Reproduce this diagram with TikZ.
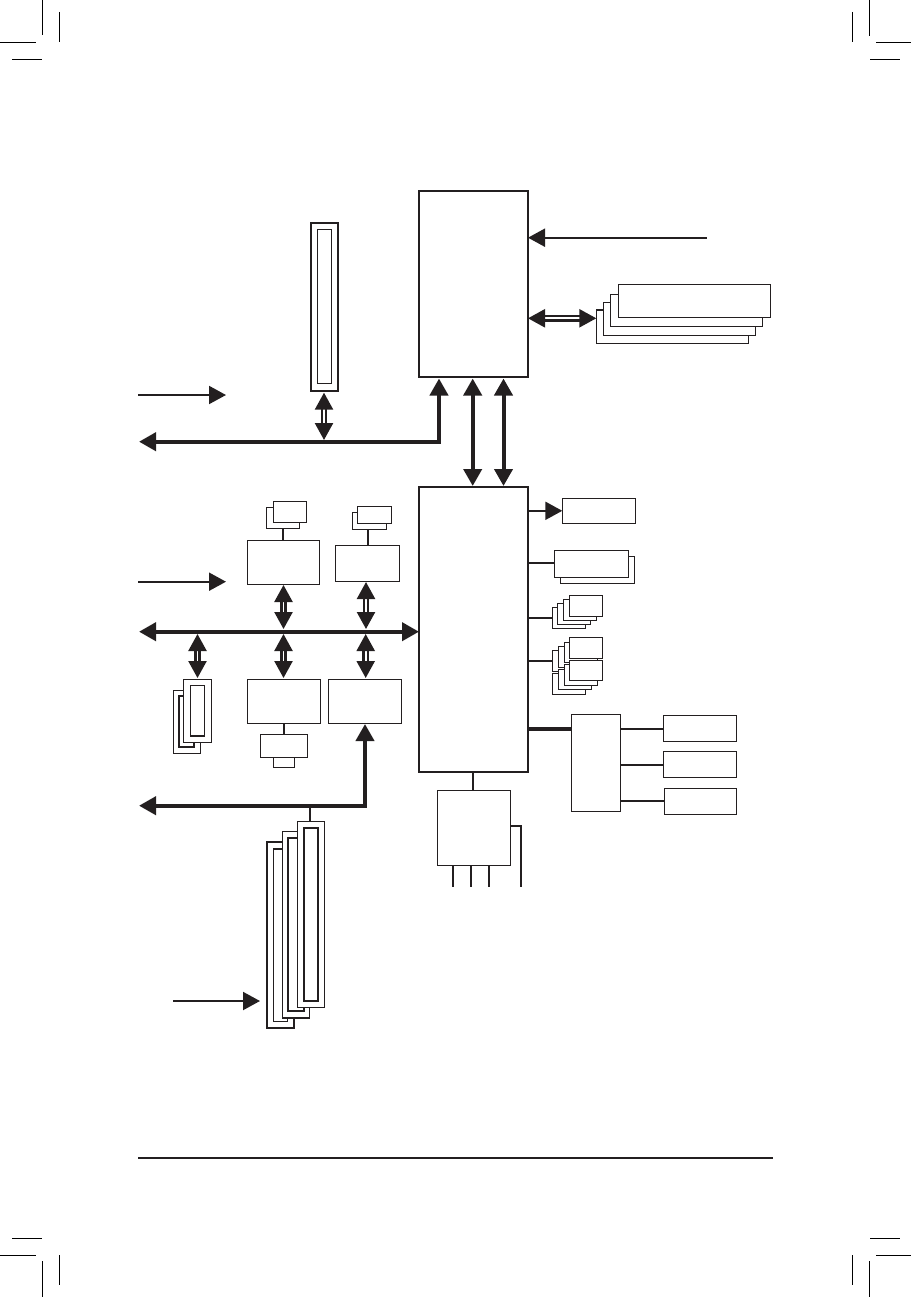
\documentclass[tikz,border=0pt]{standalone}
\usetikzlibrary{arrows.meta,calc}
\definecolor{ink}{HTML}{231F20}
\tikzset{
  boxst/.style={draw=ink,fill=white,line width=1.5pt,inner sep=0pt,outer sep=0pt},
  heavybox/.style={boxst,line width=2pt},
  slotbox/.style={boxst,line width=1.9pt},
  slotheavy/.style={boxst,line width=2.2pt},
  thin wire/.style={draw=ink,line width=2pt},
  mid wire/.style={draw=ink,line width=2.2pt},
  heavy wire/.style={draw=ink,line width=4pt},
  bigtip/.tip={Triangle[length=17pt,width=18pt,color=ink]},
  oneway/.style={draw=ink,line width=2pt,-bigtip},
  twoway/.style={draw=ink,line width=4pt,bigtip-bigtip,line join=miter},
  dbl/.style={draw=ink,line width=2.4pt,double=white,double distance=1.8pt,bigtip-bigtip},
  crop/.style={draw=black,line width=1pt}
}
\newcommand{\bx}[6][boxst]{%
  \pgfmathsetmacro{\bxw}{#5-#3}\pgfmathsetmacro{\bxh}{#6-#4}%
  \pgfmathsetmacro{\bxx}{(#5+#3)/2}\pgfmathsetmacro{\bxy}{(#6+#4)/2}%
  \node[#1,minimum width=\bxw pt,minimum height=\bxh pt] (#2) at (\bxx,\bxy) {};}
\begin{document}
\begin{tikzpicture}[x=1pt,y=-1pt]
\useasboundingbox (0,0) rectangle (913,1298);
% crop marks
\draw[crop] (42.5,0) -- (42.5,35.5);
\draw[crop] (59.5,12) -- (59.5,42);
\draw[crop] (0,42.5) -- (36,42.5);
\draw[crop] (12,59.5) -- (42,59.5);
\draw[crop] (869.5,0) -- (869.5,36);
\draw[crop] (852.5,12) -- (852.5,42);
\draw[crop] (876,42.5) -- (911,42.5);
\draw[crop] (870,59.5) -- (900,59.5);
\draw[crop] (42.5,1261) -- (42.5,1297);
\draw[crop] (59.5,1255) -- (59.5,1285);
\draw[crop] (0,1255.3) -- (36,1255.3);
\draw[crop] (12,1238.3) -- (42,1238.3);
\draw[crop] (869.5,1261) -- (869.5,1297);
\draw[crop] (852.5,1255) -- (852.5,1285);
\draw[crop] (876,1255.3) -- (911,1255.3);
\draw[crop] (870,1238.3) -- (900,1238.3);
% main chips
\bx[heavybox]{cpu}{419}{191}{528}{377}
\bx[heavybox]{pch}{419}{487}{528}{772}
% memory stack (top right)
\bx{ma}{596.3}{310}{748.7}{343.3}
\bx{mb}{603.3}{302.3}{755.7}{335.7}
\bx{mc}{610.3}{294.3}{762.7}{326.7}
\bx{md}{618.3}{284.3}{770.7}{317.3}
% x16 slot
\bx[heavybox]{slot}{310.7}{222.7}{338.3}{391.3}
\bx{sloti}{317.3}{229.3}{331.7}{383.7}
% left column upper chips
\bx{aback}{266.3}{507.3}{299.3}{528.3}
\bx{afront}{273.3}{501.3}{306.7}{522.7}
\bx{chipa}{247.3}{540.3}{319.7}{584.3}
\bx{bback}{352.3}{512.3}{386.7}{529.3}
\bx{bfront}{357.3}{506.3}{391.7}{523.5}
\bx{chipb}{335.3}{545.3}{399.3}{581.3}
% pci slots
\bx{pa}{173.3}{690.3}{200.7}{753.3}
\bx[slotbox]{pai}{179.3}{696}{194.3}{747.3}
\bx{pb}{183.7}{679.3}{211.7}{742.3}
\bx{pbi}{190.3}{685.3}{204.7}{736}
% lower chips
\bx{dback}{273.3}{750}{294.7}{767.3}
\bx{chipd}{260.3}{734.3}{307.7}{757.3}
\bx{chipc}{247.3}{679.3}{320.7}{723.3}
\bx{chipe}{328.3}{679.3}{401.7}{723.3}
% pcie x1 slots
\bx[slotbox]{xa}{266.7}{842.3}{294.3}{1028.3}
\bx{xai}{273.3}{849}{287.7}{1021.7}
\bx{xb}{282.3}{831.7}{309.7}{1018}
\bx[slotbox]{xbi}{288.3}{838.3}{303.7}{1011}
\bx{xc}{297.3}{821.7}{324.7}{1007.3}
\bx[slotheavy]{xci}{303.7}{827.7}{318.3}{1000.7}
% right column
\bx{ra}{562.3}{498.3}{635.7}{523.3}
\bx{rbb}{560.3}{556.3}{634.7}{583.3}
\bx{rb}{554.3}{550.3}{628.7}{577.3}
\bx{s1}{552.3}{607.3}{585.7}{628.3}
\bx{s2}{557.3}{603.3}{590.7}{624.3}
\bx{s3}{563.3}{599.3}{596.7}{620.3}
\bx{s4}{569.3}{595.3}{602.7}{616.3}
\bx{t1}{552.3}{650.3}{585.7}{671.3}
\bx{t2}{558.3}{646.3}{591.7}{667.3}
\bx{t3}{564.3}{642.3}{597.7}{662.7}
\bx{t4}{569.3}{637.3}{602.7}{658.3}
\bx{u1}{552.3}{673.3}{585.7}{694.3}
\bx{u2}{558.3}{669.3}{591.7}{689.3}
\bx{u3}{564.3}{664.3}{597.7}{685.3}
\bx{u4}{569.3}{660.3}{602.7}{680.3}
\bx{hub}{571.3}{714.3}{620.7}{811.7}
\bx{ha}{663.3}{715.3}{736.7}{741.3}
\bx{hb}{663.3}{751.3}{736.7}{777.3}
\bx{hc}{664.3}{788.3}{736.7}{814.3}
\bx{sio}{437.3}{790.3}{510.3}{865.3}
% free ends
\coordinate (inA) at (706.7,237.7);
\coordinate (inB) at (138,395);
\coordinate (inC) at (138,581.7);
\coordinate (inD) at (173,1001);
\coordinate (tipB) at (226,395);
\coordinate (tipC) at (226,581.7);
\coordinate (tipD) at (260,1001);
\coordinate (busTop) at (139,441.7);
\coordinate (busTopR) at (439,441.7);
\coordinate (busTopU) at (439,378.5);
\coordinate (busMidL) at (139,631.7);
\coordinate (busLow) at (139,805.7);
\coordinate (busLowR) at (365,805.7);
\coordinate (busLowU) at (365,724);
\coordinate (sl) at (324,440);
\coordinate (ja) at (283.5,629);
\coordinate (jb) at (366,629);
\coordinate (jp) at (197.5,634);
\coordinate (jc) at (283.5,634);
\coordinate (je) at (365.7,634);
\coordinate (xtop) at (310,805.7);
\coordinate (c1t) at (472.7,378.5);
\coordinate (c1b) at (472.7,486);
\coordinate (c2t) at (503.5,378.5);
\coordinate (c2b) at (503.5,486);
% connectors
\draw[oneway] (inA) -- (cpu.east |- inA);
\draw[dbl] (cpu.east |- md.south) ++(0,1) coordinate (cm) -- (ma.west |- cm);
\draw[oneway] (inB) -- (tipB);
\draw[oneway] (inC) -- (tipC);
\draw[oneway] (inD) -- (tipD);
\draw[twoway] (busTop) -- (busTopR) -- (busTopU);
\draw[dbl] (324,392.7) -- (sl);
\draw[twoway] (c1t) -- (c1b);
\draw[twoway] (c2t) -- (c2b);
\draw[twoway] (busMidL) -- (pch.west |- busMidL);
\draw[dbl] (283.5,585) -- (ja);
\draw[dbl] (366,582) -- (jb);
\draw[dbl] (jp) -- (197.5,678);
\draw[dbl] (jc) -- (283.5,678);
\draw[dbl] (je) -- (365.7,678);
\draw[thin wire] (283,528.3) -- (283,540.3);
\draw[thin wire] (368,529.3) -- (368,545.3);
\draw[thin wire] (284,723.3) -- (284,734.3);
\draw[twoway] (busLow) -- (busLowR) -- (busLowU);
\draw[mid wire] (xtop) -- (xc.north -| xtop);
% chipset outputs
\draw[oneway] (pch.east |- ra.west) -- (ra.west);
\draw[mid wire] (pch.east |- rb.west) ++(0,-1) coordinate (rw) -- (rb.west |- rw);
\draw[mid wire] (pch.east |- s1.west) -- (s1.west);
\draw[mid wire] (pch.east |- t1.west) -- (t1.west);
\draw[heavy wire] (pch.east |- hub.north) ++(0,14.4) coordinate (hw) -- (hub.west |- hw);
\draw[mid wire] (hub.east |- hw) -- (ha.west |- hw);
\coordinate (hy) at (0,765);
\draw[mid wire] (hub.east |- hy) -- (hb.west |- hy);
\coordinate (hz) at (0,801);
\draw[mid wire] (hub.east |- hz) -- (hc.west |- hz);
\draw[mid wire] (473,772) -- (473,790.3);
\coordinate (d1) at (453,887);
\coordinate (d2) at (471,887);
\coordinate (d3) at (489,887);
\coordinate (d4) at (521,887);
\coordinate (dy) at (0,826);
\draw[mid wire] (sio.south -| d1) -- (d1);
\draw[mid wire] (sio.south -| d2) -- (d2);
\draw[mid wire] (sio.south -| d3) -- (d3);
\draw[mid wire] (sio.east |- dy) -| (d4);
% bottom rule
\coordinate (ruleL) at (138,1158);
\coordinate (ruleR) at (773,1158);
\draw[thin wire] (ruleL) -- (ruleR);
\end{tikzpicture}
\end{document}
